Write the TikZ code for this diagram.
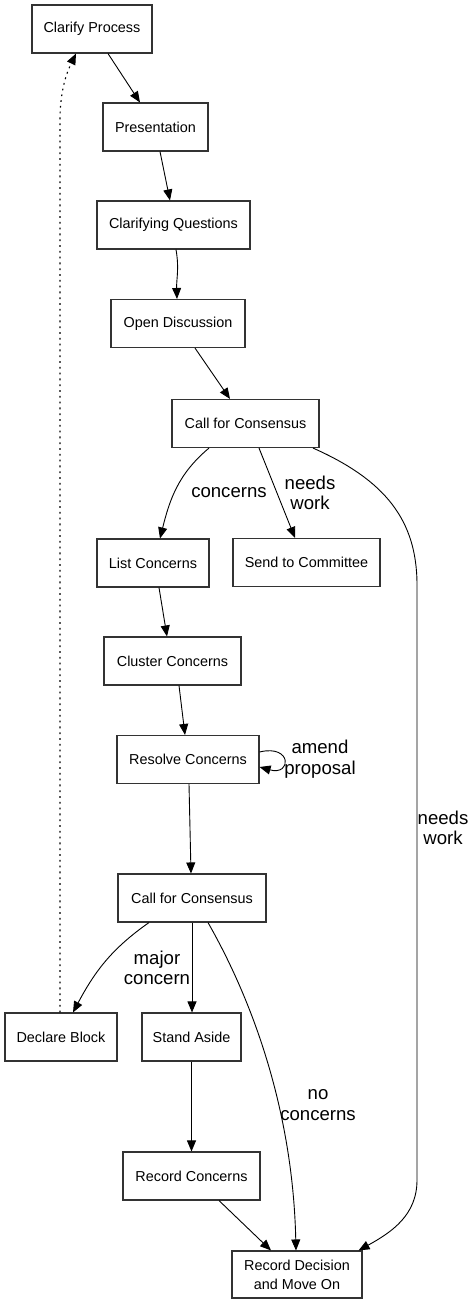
\documentclass[tikz,border=0pt]{standalone}
\usepackage{fontspec}
\setmainfont{Liberation Sans}
\usepackage{tikz}
\usetikzlibrary{arrows.meta,positioning}

\begin{document}
\begin{tikzpicture}[
  x=1pt,y=-1pt,
  >={Triangle[length=11pt,width=9pt]},
  stepbox/.style={rectangle,draw=black!80,line width=1.1pt,minimum height=48pt,
                  inner sep=0pt,align=center,font=\fontsize{14.4}{19}\selectfont},
  flow/.style={->,line width=0.9pt},
  back/.style={->,line width=1.1pt,dash pattern=on 1.8pt off 4pt},
  lbl/.style={align=center,inner sep=0pt,font=\fontsize{18.6}{20.5}\selectfont}
]
\useasboundingbox (0,0) rectangle (476,1304);
\node[stepbox,minimum width=120pt] (clar)  at (92,29)      {Clarify Process};
\node[stepbox,minimum width=105pt] (pres)  at (155.5,127)  {Presentation};
\node[stepbox,minimum width=153pt] (quest) at (173.5,225)  {Clarifying Questions};
\node[stepbox,minimum width=134pt] (disc)  at (178,323.5)  {Open Discussion};
\node[stepbox,minimum width=147pt] (callA) at (245.5,423.5){Call for Consensus};
\node[stepbox,minimum width=112pt] (list)  at (153,563)    {List Concerns};
\node[stepbox,minimum width=147pt] (send)  at (306.5,562.5){Send to Committee};
\node[stepbox,minimum width=137pt] (clus)  at (172.5,661)  {Cluster Concerns};
\node[stepbox,minimum width=142pt] (resol) at (188,759.5)  {Resolve Concerns};
\node[stepbox,minimum width=148pt] (callB) at (192,898)    {Call for Consensus};
\node[stepbox,minimum width=112pt] (block) at (61,1037)    {Declare Block};
\node[stepbox,minimum width=99pt]  (stand) at (191.5,1037) {Stand Aside};
\node[stepbox,minimum width=137pt] (rcon)  at (191.5,1176) {Record Concerns};
\node[stepbox,minimum width=130pt,minimum height=47pt] (rdec) at (297,1274.5) {Record Decision\\and Move On};
% edge labels
\node[lbl] (lconc)  at (229,493)  {concerns};
\node[lbl] (lwrkA)  at (310,493)  {needs\\work};
\node[lbl] (lwrkB)  at (443,828)  {needs\\work};
\node[lbl] (lamend) at (320,759)  {amend\\proposal};
\node[lbl] (lmajor) at (157,968)  {major\\concern};
\node[lbl] (lnone)  at (318,1105) {no\\concerns};
% main flow
\draw[flow] ([xshift=16pt]clar.south)   -- ([xshift=-15.5pt]pres.north);
\draw[flow] ([xshift=4.5pt]pres.south)  -- ([xshift=-3.5pt]quest.north);
\draw[flow] ([xshift=2.5pt]quest.south) to[out=-80,in=92] ([xshift=-1pt]disc.north);
\draw[flow] ([xshift=17pt]disc.south)   -- ([xshift=-15.5pt]callA.north);
\draw[flow] ([xshift=-36.5pt]callA.south) to[out=-140,in=76] ([xshift=7pt]list.north);
\draw[flow] ([xshift=13.5pt]callA.south) -- ([xshift=-11.5pt]send.north);
\draw[flow] ([xshift=67.5pt]callA.south) .. controls (385,480) and (417,520) .. (417,585)
            -- (417,1180) .. controls (417,1215) and (392,1232) .. ([xshift=-4pt]rdec.north east);
\draw[flow] ([xshift=6pt]list.south)    -- ([xshift=-5.5pt]clus.north);
\draw[flow] ([xshift=6.5pt]clus.south)  -- ([xshift=-3pt]resol.north);
\draw[flow] ([yshift=7.5pt]resol.east) .. controls (292,744) and (292,776) .. ([yshift=-7.5pt]resol.east);
\draw[flow] ([xshift=1pt]resol.south)   -- ([xshift=-1pt]callB.north);
\draw[flow] ([xshift=-43pt]callB.south) to[out=-145,in=62] ([xshift=12pt]block.north);
\draw[flow] (callB.south) -- ([xshift=0.5pt]stand.north);
\draw[flow] ([xshift=16pt]callB.south)  .. controls (255,1005) and (293,1115) .. ([xshift=-1pt]rdec.north);
\draw[flow] (stand.south) -- (rcon.north);
\draw[flow] ([xshift=27.5pt]rcon.south) -- ([xshift=-26pt]rdec.north);
% loop back
\draw[back] ([xshift=-1pt]block.north) -- (60,120) .. controls (60,88) and (68,70) .. ([xshift=-16pt]clar.south);
\end{tikzpicture}
\end{document}
